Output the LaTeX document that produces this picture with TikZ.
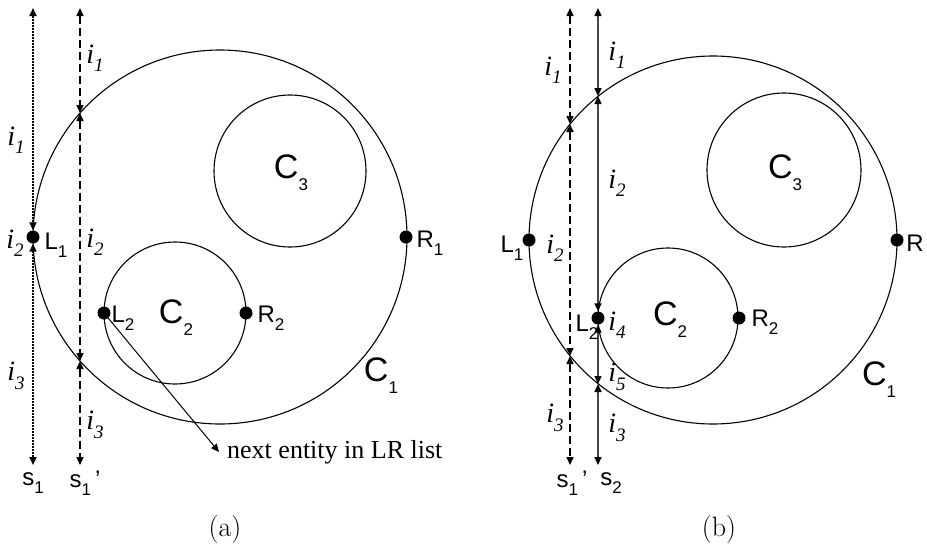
\documentclass[tikz,border=0pt]{standalone}
\usepackage{fontspec}
\newfontfamily\tms{Liberation Serif}
\newfontfamily\hel{Liberation Sans}
\usetikzlibrary{arrows.meta}
\newcommand\sbs[1]{\raisebox{-0.35em}{\fontsize{17}{17}\selectfont #1}}
\newcommand\il[1]{i\raisebox{-0.3em}{\fontsize{19}{19}\selectfont #1}}
\begin{document}
\begin{tikzpicture}[x=1pt,y=-1pt,
  tip/.tip={Triangle[length=8pt,width=7pt,black]},
  seg/.style={line width=1.5pt,tip-tip},
  dotline/.style={seg,line width=1.9pt,dash pattern=on 2pt off 1pt},
  dashline/.style={seg,dash pattern=on 8pt off 4pt},
  solidline/.style={seg,draw=black!72},
  circ/.style={line width=1.1pt},
  pt/.style={circle,fill,inner sep=0pt,minimum size=13pt},
  ilab/.style={font=\tms\itshape\fontsize{28}{28}\selectfont, inner sep=0pt},
  slab/.style={font=\hel\fontsize{24}{24}\selectfont, inner sep=0pt},
  clab/.style={font=\hel\fontsize{34}{34}\selectfont, inner sep=0pt},
  caplab/.style={font=\fontsize{28}{28}\selectfont, inner sep=0pt},
]
\useasboundingbox (0,0) rectangle (927,549);

% ---------------- panel (a) ----------------
\draw[circ] (220,237) circle[radius=187pt];
\draw[circ] (290,171) circle[radius=76pt];
\draw[circ] (175,313) circle[radius=71pt];

\coordinate (a1t) at (33,8);
\coordinate (a1b) at (33,465);
\coordinate (a2t) at (80,8);
\coordinate (a2u) at (80,113);
\coordinate (a2l) at (80,361);
\coordinate (a2b) at (80,465);

\node[pt] (La1) at (33,237) {};
\node[pt] (Ra1) at (406,237) {};
\node[pt] (La2) at (104,313) {};
\node[pt] (Ra2) at (246,313) {};

\draw[dotline] (a1t) -- (La1);
\draw[dotline] (La1) -- (a1b);
\draw[dashline] (a2t) -- (a2u);
\draw[dashline] (a2u) -- (a2l);
\draw[dashline] (a2l) -- (a2b);

\node[anchor=west, inner sep=0pt, font=\tms\fontsize{26}{26}\selectfont] (nxt) at (219,452) {\hspace{8pt}next entity in LR list};
\draw[line width=1pt,-tip] (La2.center) -- (nxt.west);

\node[ilab] (ia1) at (16,140) {\il{1}};
\node[ilab] (ia2) at (15,243) {\il{2}};
\node[ilab] (ia3) at (16,376) {\il{3}};
\node[ilab] (ia4) at (95,58) {\il{1}};
\node[ilab] (ia5) at (95,242) {\il{2}};
\node[ilab] (ia6) at (95,425) {\il{3}};

\node[slab] (tL1a) at (56,245) {L\sbs{1}};
\node[slab] (tL2a) at (123,318) {L\sbs{2}};
\node[slab] (tR2a) at (271,318) {R\sbs{2}};
\node[slab] (tR1a) at (430,243) {R\sbs{1}};
\node[clab] (tC1a) at (381,376) {C\sbs{1}};
\node[clab] (tC2a) at (176,318) {C\sbs{2}};
\node[clab] (tC3a) at (291,173) {C\sbs{3}};
\node[slab] (ts1a) at (33,483) {s\sbs{1}};
\node[slab] (ts2a) at (85,483) {s\sbs{1}\,’};
\node[caplab] (capa) at (225,530) {(a)};

% ---------------- panel (b) ----------------
\draw[circ] (713,240) circle[radius=184pt];
\draw[circ] (784,170) circle[radius=77pt];
\draw[circ] (668,318) circle[radius=70pt];

\coordinate (b1t) at (570,8);
\coordinate (b1u) at (570,124);
\coordinate (b1l) at (570,356);
\coordinate (b1b) at (570,465);
\coordinate (b2t) at (598,8);
\coordinate (b2u) at (598,96);
\coordinate (b2l) at (598,384);
\coordinate (b2b) at (598,465);

\node[pt] (Lb1) at (529,240) {};
\node[pt] (Rb1) at (897,240) {};
\node[pt] (Lb2) at (598,318) {};
\node[pt] (Rb2) at (739,318) {};

\draw[dashline] (b1t) -- (b1u);
\draw[dashline] (b1u) -- (b1l);
\draw[dashline] (b1l) -- (b1b);
\draw[solidline] (b2t) -- (b2u);
\draw[solidline] (b2u) -- (Lb2);
\draw[solidline] (Lb2) -- (b2l);
\draw[solidline] (b2l) -- (b2b);

\node[ilab] (ib1) at (553,70) {\il{1}};
\node[ilab] (ib2) at (555,248) {\il{2}};
\node[ilab] (ib3) at (555,418) {\il{3}};
\node[ilab] (ib4) at (617,55) {\il{1}};
\node[ilab] (ib5) at (617,183) {\il{2}};
\node[ilab] (ib6) at (617,325) {\il{4}};
\node[ilab] (ib7) at (617,377) {\il{5}};
\node[ilab] (ib8) at (617,428) {\il{3}};

\node[slab] (tL1b) at (512,248) {L\sbs{1}};
\node[slab] (tL2b) at (587,327) {L\sbs{2}};
\node[slab] (tR2b) at (765,322) {R\sbs{2}};
\node[slab] (tRb) at (915,243) {R};
\node[clab] (tC1b) at (879,380) {C\sbs{1}};
\node[clab] (tC2b) at (670,320) {C\sbs{2}};
\node[clab] (tC3b) at (785,173) {C\sbs{3}};
\node[slab] (ts1b) at (572,483) {s\sbs{1}\,’};
\node[slab] (ts2b) at (611,483) {s\sbs{2}};
\node[caplab] (capb) at (719,530) {(b)};
\end{tikzpicture}
\end{document}
